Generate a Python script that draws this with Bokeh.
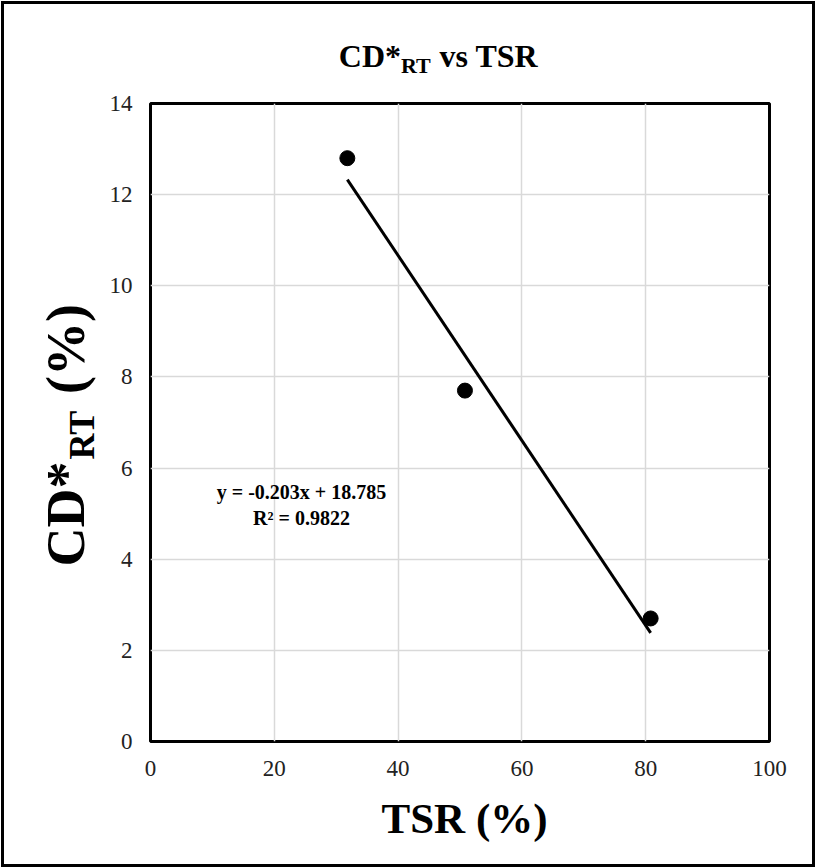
import numpy as np
from bokeh.plotting import figure
from bokeh.models import Label, FixedTicker, InlineStyleSheet
from bokeh.embed import file_html
from bokeh.resources import INLINE

# ---- data ----
tsr = [31.8, 50.8, 80.8]          # TSR (%)
cd_rt = [12.8, 7.7, 2.7]          # CD*RT (%)
trend_slope = -0.203
trend_intercept = 18.785
trend_r2 = 0.9822
x_ticks = [0, 20, 40, 60, 80, 100]
y_ticks = [0, 2, 4, 6, 8, 10, 12, 14]

# ---- layout ----
W, H = 816, 868
FL, FR, FT, FB = 150, 769, 103, 741
X0, X1, Y0, Y1 = 0, 100, 0, 14
SERIF = "Liberation Serif"
NBSP = "\u00a0"

p = figure(width=W, height=H, x_range=(X0, X1), y_range=(Y0, Y1),
           output_backend="svg", toolbar_location=None, title=None,
           min_border_left=FL, min_border_right=W - FR,
           min_border_top=FT, min_border_bottom=H - FB)
p.background_fill_color = "white"
p.border_fill_color = "white"
p.outline_line_color = "black"
p.outline_line_width = 3
p.stylesheets = [InlineStyleSheet(css=(
    ":host { position: relative; }"
    ":host::after { content: ''; position: absolute; left: 1px; top: 1px; "
    "width: 808px; height: 860px; border: 3px solid black; "
    "pointer-events: none; z-index: 1000; }"))]

for ax in (p.xaxis, p.yaxis):
    ax.axis_line_color = None
    ax.major_tick_line_color = None
    ax.minor_tick_line_color = None
    ax.major_label_text_font = SERIF
    ax.major_label_text_font_size = "23px"
    ax.major_label_text_color = "#222222"
p.xaxis.ticker = FixedTicker(ticks=x_ticks)
p.yaxis.ticker = FixedTicker(ticks=y_ticks)
p.xaxis.major_label_standoff = 13
p.yaxis.major_label_standoff = 12

p.xgrid.ticker = FixedTicker(ticks=x_ticks)
p.ygrid.ticker = FixedTicker(ticks=y_ticks)
for g in (p.xgrid, p.ygrid):
    g.grid_line_color = "#d9d9d9"
    g.grid_line_width = 1.5

# trendline from fitted coefficients over the data span
tx = np.array([min(tsr), max(tsr)])
ty = trend_slope * tx + trend_intercept
p.line(tx, ty, line_color="black", line_width=3)
p.scatter(tsr, cd_rt, size=15, color="black")

# ---- text placement helpers (canvas pixels) ----
TB = {'C': 722, 'D': 722, '*': 500, 'R': 722, 'T': 667, ' ': 250, 'v': 500,
      's': 389, 'S': 556, '(': 333, '%': 1000, ')': 333, NBSP: 250}

def tw(s, size):
    return sum(TB.get(c, 500) for c in s) * size / 1000.0

def add_text(px, py, text, size, angle=0.0, align="left", place="center"):
    lab = Label(x=px, y=py, x_units="canvas", y_units="canvas", text=text,
                angle=angle, text_font=SERIF, text_font_size=f"{size}px",
                text_font_style="bold", text_color="black",
                text_align=align, text_baseline="middle")
    if place == "center":
        p.add_layout(lab)
    else:
        p.add_layout(lab, place)

# title: CD*_RT vs TSR  (pieces spread over side panels so none is clipped)
tsz, tsub = 32, 22
total = tw("CD*", tsz) + tw("RT", tsub) + tw(" vs TSR", tsz)
x = 438 - total / 2
yc = 55
add_text(x, yc, "CD*", tsz, place="above"); x += tw("CD*", tsz)
add_text(x, yc + 10, "RT", tsub, place="left"); x += tw("RT", tsub) + tw(" ", tsz)
add_text(x, yc, "vs TSR", tsz, place="above")

# y axis label (rotated): main text with a gap for the subscript
ysz, ysub = 54, 36
py0 = 566
xc = 65
gap = NBSP * 5
add_text(xc, py0, "CD*" + gap + "(%)", ysz, angle=np.pi / 2, place="left")
add_text(xc + 16, py0 - tw("CD*", ysz) - 2, "RT", ysub, angle=np.pi / 2, place="right")

# x axis label
add_text(464, 818, "TSR (%)", 43, align="center", place="below")

# trendline equation
add_text(301, 491, f"y = {trend_slope:.3f}x + {trend_intercept:.3f}", 20, align="center")
add_text(301, 517, f"R² = {trend_r2:.4f}", 20, align="center")

open("out.html", "w").write(file_html(p, INLINE))
